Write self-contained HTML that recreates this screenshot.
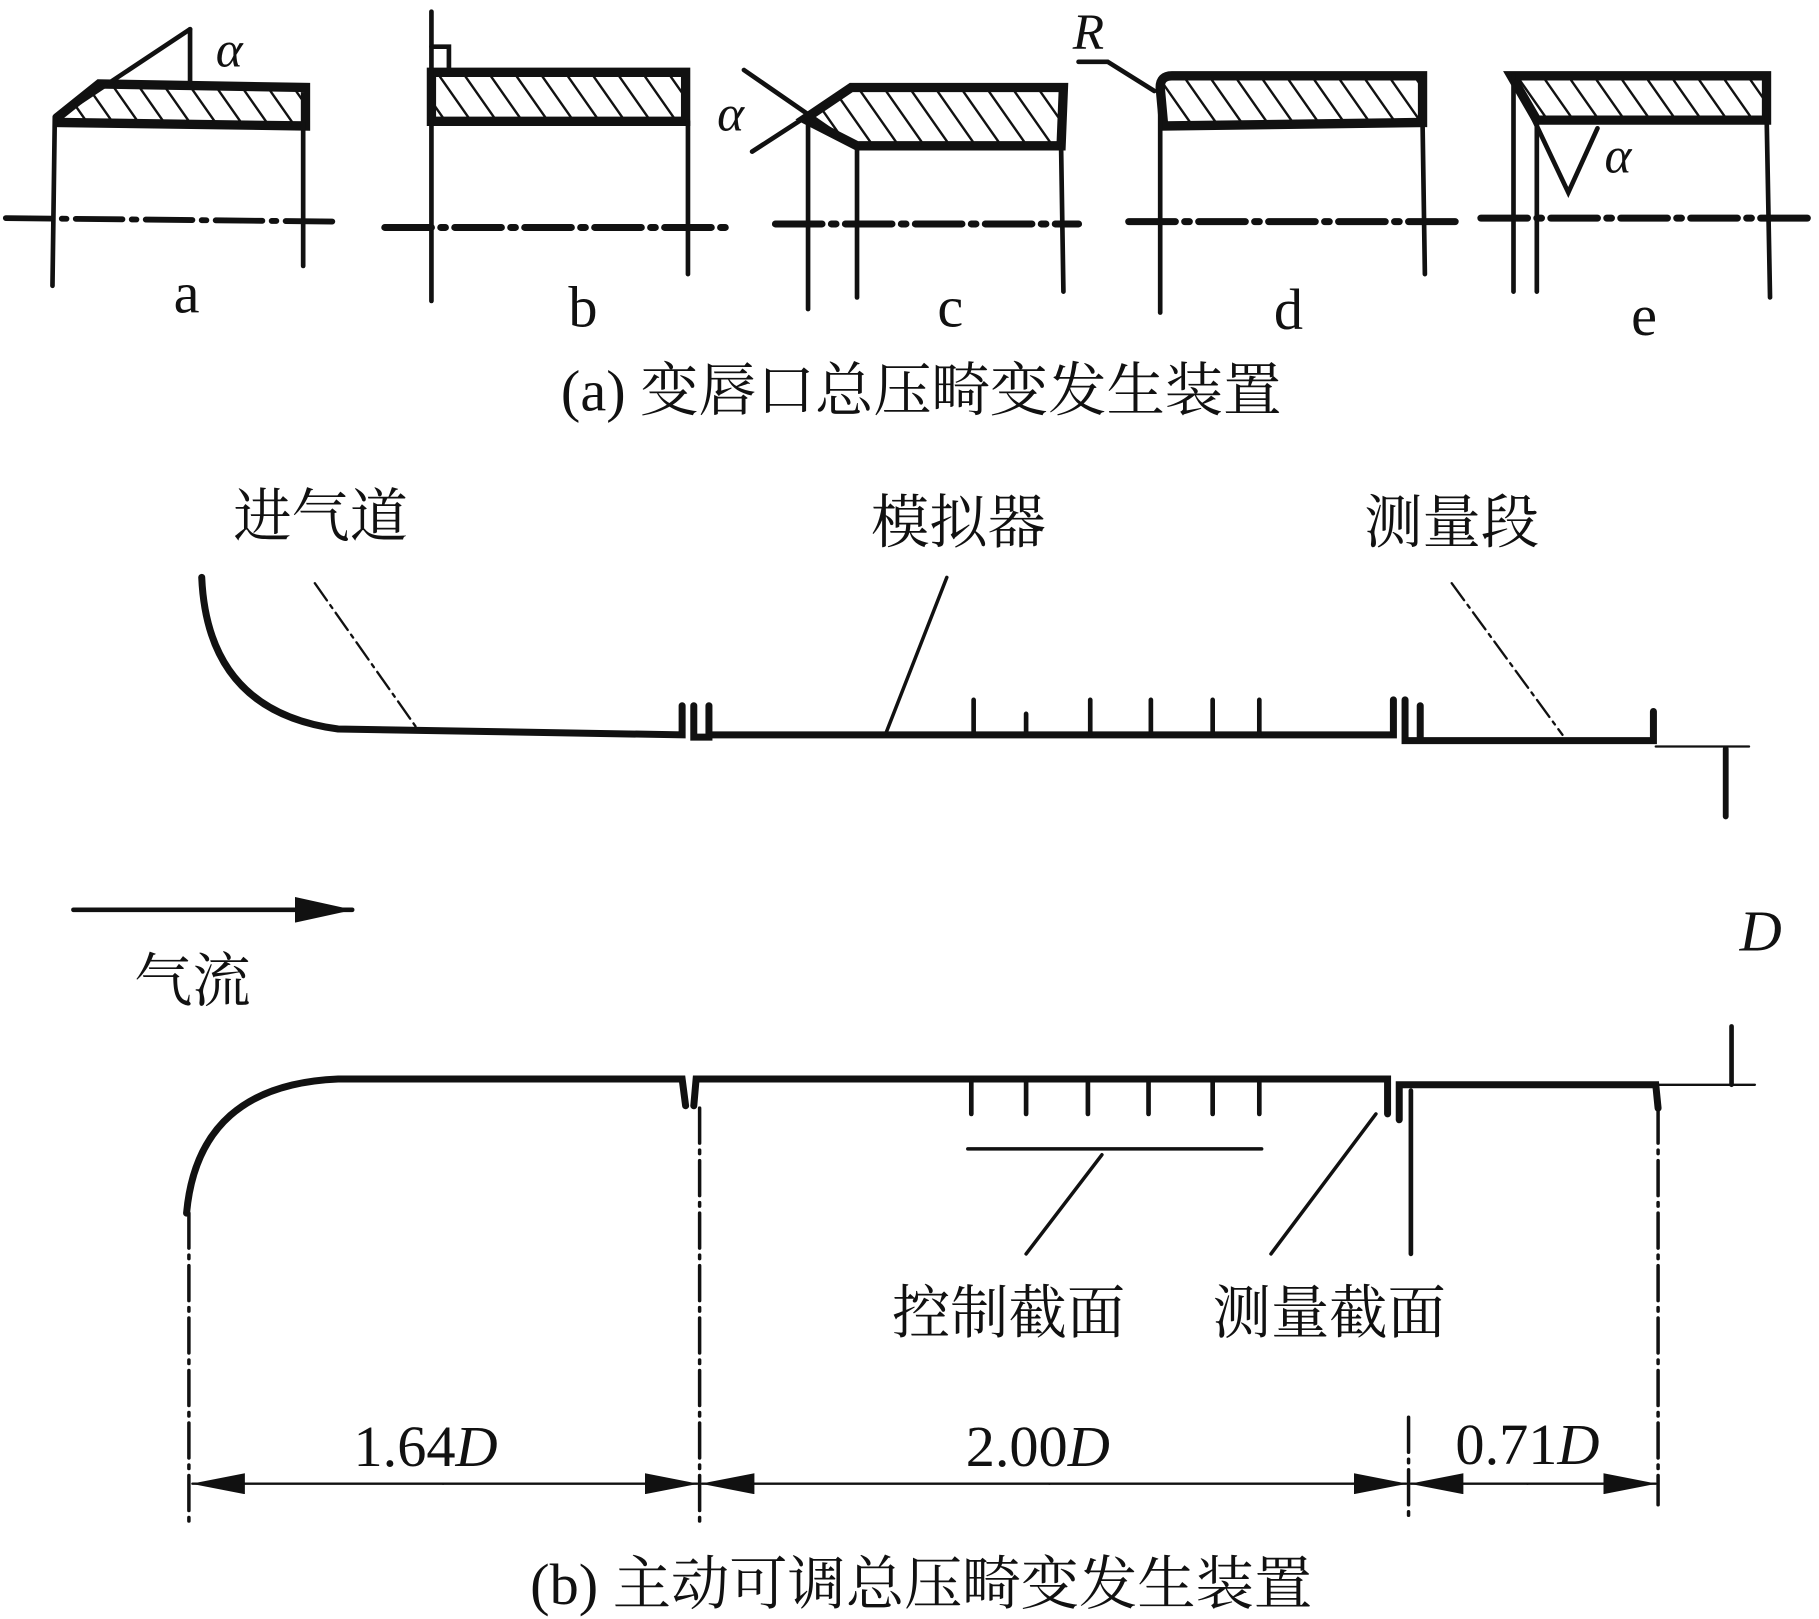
<!DOCTYPE html>
<html><head><meta charset="utf-8"><style>
html,body{margin:0;padding:0;background:#fff;}
svg{display:block;}
text{font-family:"Liberation Serif","Noto Serif CJK SC","Noto Sans CJK SC",serif;fill:#111;}
.it{font-style:italic;}
</style></head><body>
<svg width="1819" height="1619" viewBox="0 0 1560 1388" preserveAspectRatio="none" xmlns="http://www.w3.org/2000/svg">
<defs>
<pattern id="h" patternUnits="userSpaceOnUse" width="22" height="40" patternTransform="skewX(35)">
<rect width="22" height="40" fill="#fff"/><line x1="0" y1="0" x2="0" y2="40" stroke="#111" stroke-width="5"/>
</pattern>
<marker id="ar" markerWidth="46" markerHeight="18" refX="45" refY="9" orient="auto" markerUnits="userSpaceOnUse" viewBox="0 0 46 18"><path d="M0,0 L46,9 L0,18 Z" fill="#111"/></marker>
<marker id="ar2" markerWidth="50" markerHeight="22" refX="49" refY="11" orient="auto" markerUnits="userSpaceOnUse" viewBox="0 0 50 22"><path d="M0,0 L50,11 L0,22 Z" fill="#111"/></marker>
</defs>
<g stroke="#111" fill="none" stroke-linecap="round">
<!-- a -->
<path d="M50,100 L85,72 L262,75 L262,108 L50,105 Z" fill="url(#h)" stroke-width="8"/>
<line x1="47" y1="100" x2="45" y2="245" stroke-width="4"/>
<line x1="260" y1="105" x2="260" y2="228" stroke-width="4"/>
<line x1="50" y1="100" x2="163" y2="25" stroke-width="4"/>
<line x1="163" y1="25" x2="163" y2="72" stroke-width="4"/>
<line x1="5" y1="187" x2="290" y2="190" stroke-width="5" stroke-dasharray="40 8 4 8"/>
<!-- b -->
<path d="M370,62 L588,62 L588,104 L370,104 Z" fill="url(#h)" stroke-width="8"/>
<line x1="370" y1="10" x2="370" y2="258" stroke-width="4"/>
<path d="M370,40 L385,40 L385,60" stroke-width="4"/>
<line x1="590" y1="104" x2="590" y2="235" stroke-width="4"/>
<line x1="330" y1="195" x2="625" y2="195" stroke-width="6" stroke-dasharray="40 8 4 8"/>
<!-- c -->
<path d="M690,102 L730,75 L912,75 L910,125 L735,125 Z" fill="url(#h)" stroke-width="8"/>
<line x1="638" y1="60" x2="732" y2="125" stroke-width="4"/>
<line x1="645" y1="130" x2="730" y2="75" stroke-width="4"/>
<line x1="693" y1="105" x2="693" y2="265" stroke-width="4"/>
<line x1="735" y1="125" x2="735" y2="255" stroke-width="4"/>
<line x1="910" y1="125" x2="912" y2="250" stroke-width="4"/>
<line x1="665" y1="192" x2="925" y2="192" stroke-width="6" stroke-dasharray="40 8 4 8"/>
<!-- d -->
<path d="M995,75 Q995,65 1005,65 L1220,65 L1220,105 L998,108 Z" fill="url(#h)" stroke-width="8"/>
<path d="M925,53 L950,53 L990,78" stroke-width="4"/>
<line x1="995" y1="75" x2="995" y2="268" stroke-width="4"/>
<line x1="1220" y1="105" x2="1222" y2="235" stroke-width="4"/>
<line x1="968" y1="190" x2="1250" y2="190" stroke-width="6" stroke-dasharray="40 8 4 8"/>
<!-- e -->
<path d="M1296,65 L1515,65 L1515,103 L1318,103 Z" fill="url(#h)" stroke-width="8"/>
<line x1="1298" y1="65" x2="1298" y2="250" stroke-width="4"/>
<line x1="1318" y1="103" x2="1318" y2="250" stroke-width="4"/>
<line x1="1515" y1="95" x2="1518" y2="255" stroke-width="4"/>
<path d="M1300,70 L1345,165 L1370,110" stroke-width="4"/>
<line x1="1270" y1="187" x2="1555" y2="187" stroke-width="6" stroke-dasharray="40 8 4 8"/>

<!-- upper wall -->
<path d="M173,495 Q178,610 290,625 L585,630 L585,605 M595,605 L595,632 L608,632 L608,605 M608,630 L1195,630 L1195,600 M1205,600 L1205,635 L1218,635 L1218,605 M1218,635 L1418,635 L1418,610" stroke-width="6"/>
<g stroke-width="4"><line x1="835" y1="600" x2="835" y2="630"/><line x1="880" y1="612" x2="880" y2="630"/><line x1="935" y1="600" x2="935" y2="630"/><line x1="987" y1="600" x2="987" y2="630"/><line x1="1040" y1="600" x2="1040" y2="630"/><line x1="1080" y1="600" x2="1080" y2="630"/></g>
<line x1="1420" y1="640" x2="1500" y2="640" stroke-width="2"/>
<line x1="1480" y1="642" x2="1480" y2="700" stroke-width="5"/>
<line x1="270" y1="500" x2="358" y2="625" stroke-width="2" stroke-dasharray="18 5 3 5"/>
<line x1="812" y1="495" x2="760" y2="628" stroke-width="3"/>
<line x1="1245" y1="500" x2="1340" y2="630" stroke-width="2" stroke-dasharray="18 5 3 5"/>
<!-- arrow -->
<line x1="63" y1="780" x2="302" y2="780" stroke-width="4" marker-end="url(#ar2)"/>
<!-- lower wall -->
<path d="M160,1040 Q170,930 290,925 L585,925 L588,948 M595,948 L597,925 L1190,925 L1190,955 M1200,960 L1200,930 L1420,930 L1422,950" stroke-width="6"/>
<g stroke-width="4"><line x1="833" y1="925" x2="833" y2="955"/><line x1="880" y1="925" x2="880" y2="955"/><line x1="933" y1="925" x2="933" y2="955"/><line x1="985" y1="925" x2="985" y2="955"/><line x1="1040" y1="925" x2="1040" y2="955"/><line x1="1080" y1="925" x2="1080" y2="955"/></g>
<line x1="1420" y1="930" x2="1505" y2="930" stroke-width="2"/>
<line x1="1485" y1="880" x2="1485" y2="930" stroke-width="4"/>
<line x1="830" y1="985" x2="1082" y2="985" stroke-width="3"/>
<line x1="945" y1="990" x2="880" y2="1075" stroke-width="3"/>
<line x1="1180" y1="955" x2="1090" y2="1075" stroke-width="3"/>
<line x1="1210" y1="935" x2="1210" y2="1075" stroke-width="4"/>
<!-- extension lines -->
<g stroke-width="3" stroke-dasharray="30 6 3 6">
<line x1="162" y1="1040" x2="162" y2="1305"/><line x1="600" y1="950" x2="600" y2="1305"/><line x1="1208" y1="1215" x2="1208" y2="1305"/><line x1="1422" y1="950" x2="1422" y2="1290"/></g>
<g stroke-width="2">
<line x1="380" y1="1272" x2="165" y2="1272" marker-end="url(#ar)"/><line x1="380" y1="1272" x2="598" y2="1272" marker-end="url(#ar)"/>
<line x1="900" y1="1272" x2="602" y2="1272" marker-end="url(#ar)"/><line x1="900" y1="1272" x2="1206" y2="1272" marker-end="url(#ar)"/>
<line x1="1310" y1="1272" x2="1210" y2="1272" marker-end="url(#ar)"/><line x1="1310" y1="1272" x2="1420" y2="1272" marker-end="url(#ar)"/>
</g>
</g>
<g font-size="44">
<text x="185" y="57" class="it">α</text>
<text x="615" y="112" class="it">α</text>
<text x="1376" y="148" class="it">α</text>
<text x="920" y="42" class="it">R</text>
</g>
<g font-size="50" text-anchor="middle">
<text x="160" y="268">a</text><text x="500" y="280">b</text><text x="815" y="280">c</text><text x="1105" y="282">d</text><text x="1410" y="287">e</text>
</g>
<g font-size="50" text-anchor="middle">
<text x="790" y="352">(a) 变唇口总压畸变发生装置</text>
<text x="275" y="460">进气道</text>
<text x="822" y="465">模拟器</text>
<text x="1245" y="465">测量段</text>
<text x="165" y="858">气流</text>
<text x="865" y="1143">控制截面</text>
<text x="1140" y="1143">测量截面</text>
<text x="790" y="1375">(b) 主动可调总压畸变发生装置</text>
<text x="1510" y="815" class="it">D</text>
<text x="365" y="1257">1.64<tspan class="it">D</tspan></text>
<text x="890" y="1257">2.00<tspan class="it">D</tspan></text>
<text x="1310" y="1255">0.71<tspan class="it">D</tspan></text>
</g>
</svg>
</body></html>
